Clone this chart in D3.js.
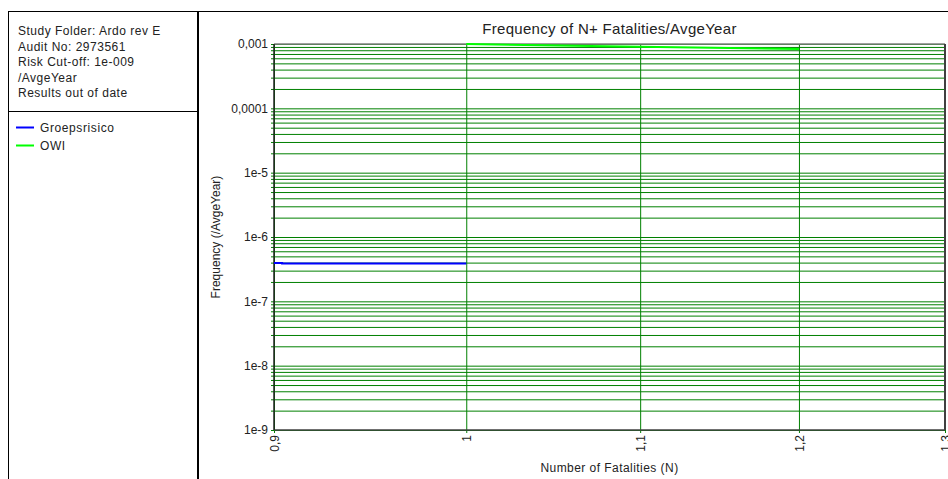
<!DOCTYPE html>
<html>
<head>
<meta charset="utf-8">
<script src="https://cdn.jsdelivr.net/npm/d3@7"></script>
<style>
  body { margin: 0; background: #fff; }
  text { font-family: "Liberation Sans", Arial, sans-serif; fill: #222; }
</style>
</head>
<body>
<div id="chart"></div>
<script>
// data
var infoLines = ['Study Folder: Ardo rev E', 'Audit No: 2973561', 'Risk Cut-off: 1e-009', '/AvgeYear', 'Results out of date']
var seriesNames = ['Groepsrisico', 'OWI']
var seriesColors = ['#0000ff', '#00ff00']
var groepsN = [0.9, 0.904, 0.904, 1]
var groepsFreq = [3.95e-7, 3.95e-7, 3.86e-7, 3.86e-7]
var owiN = [1, 1.1, 1.2]
var owiFreq = [1.0e-3, 9.1e-4, 8.35e-4]
var xTickValues = [0.9, 1, 1.1, 1.2, 1.3]
var xTickLabels = ['0,9', '1', '1,1', '1,2', '1,3']
var yTickValues = [1e-9, 1e-8, 1e-7, 1e-6, 1e-5, 1e-4, 1e-3]
var yTickLabels = ['1e-9', '1e-8', '1e-7', '1e-6', '1e-5', '0,0001', '0,001']

var W = 948, H = 479
var margin = { top: 44, left: 274, right: 3, bottom: 49 }
var width = W - margin.left - margin.right
var height = H - margin.top - margin.bottom

var root = d3.select('#chart').append('svg')
  .attr('width', W)
  .attr('height', H)

/* left info panel */
root.append('line').attr('x1', 8).attr('x2', W).attr('y1', 11.5).attr('y2', 11.5)
  .attr('stroke', '#000').attr('stroke-width', 1)
root.append('line').attr('x1', 8.5).attr('x2', 8.5).attr('y1', 11).attr('y2', H)
  .attr('stroke', '#000').attr('stroke-width', 1)
root.append('line').attr('x1', 198).attr('x2', 198).attr('y1', 11).attr('y2', H)
  .attr('stroke', '#000').attr('stroke-width', 2)
root.append('line').attr('x1', 8).attr('x2', 198).attr('y1', 111.5).attr('y2', 111.5)
  .attr('stroke', '#000').attr('stroke-width', 1)

root.selectAll('.info')
  .data(infoLines)
  .enter()
  .append('text')
  .attr('class', 'info')
  .attr('x', 18)
  .attr('y', (d, i) => 35 + i * 15.5)
  .style('font-size', '12px')
  .style('letter-spacing', '0.5px')
  .text(d => d)

var legend = root.selectAll('.legend')
  .data(seriesNames)
  .enter()
  .append('g')
  .attr('class', 'legend')
  .attr('transform', (d, i) => `translate(16,${127.5 + i * 18})`)
legend.append('line')
  .attr('x1', 0).attr('x2', 18)
  .attr('stroke', (d, i) => seriesColors[i])
  .attr('stroke-width', 2)
legend.append('text')
  .attr('x', 24).attr('dy', '0.35em')
  .style('font-size', '12px')
  .style('letter-spacing', '0.6px')
  .text(d => d)

/* plot */
var svg = root.append('g')
  .attr('transform', `translate(${margin.left},${margin.top})`)

var xPositionScale = d3.scaleLog().domain([0.9, 1.3]).range([0, width])
var yPositionScale = d3.scaleLog().domain([1e-9, 1e-3]).range([height, 0])

// every 1..9 x 10^k between the decades
var yMinor = []
yTickValues.forEach(function(v, i) {
  if (i === yTickValues.length - 1) { yMinor.push(v); return }
  for (var k = 1; k < 10; k++) yMinor.push(v * k)
})

var yAxis = d3.axisLeft(yPositionScale)
  .tickValues(yMinor)
  .tickSize(-width)
  .tickSizeOuter(0)
  .tickPadding(6)
  .tickFormat(d => {
    var i = yTickValues.findIndex(v => Math.abs(v - d) / v < 1e-6)
    return i >= 0 ? yTickLabels[i] : ''
  })
var gy = svg.append('g').attr('class', 'axis y-axis').call(yAxis)
gy.select('.domain').remove()
gy.selectAll('.tick line').attr('x1', -3).attr('stroke', '#008000')
gy.selectAll('.tick text')
  .style('font-size', '12px')
  .attr('x', -6)
  .attr('fill', '#222')

var xAxis = d3.axisBottom(xPositionScale)
  .tickValues(xTickValues)
  .tickSize(-height)
  .tickSizeOuter(0)
  .tickFormat((d, i) => xTickLabels[i])
var gx = svg.append('g')
  .attr('class', 'axis x-axis')
  .attr('transform', 'translate(0,' + height + ')')
  .call(xAxis)
gx.select('.domain').remove()
gx.selectAll('.tick line').attr('y1', 3).attr('stroke', '#008000')
gx.selectAll('.tick text')
  .style('font-size', '12px')
  .style('text-anchor', 'end')
  .attr('transform', 'rotate(-90)')
  .attr('x', -5)
  .attr('y', 0)
  .attr('dy', '0.35em')
  .attr('fill', '#222')

// frame
svg.append('line').attr('x1', 0).attr('x2', width).attr('y1', 0).attr('y2', 0)
  .attr('stroke', '#808080').attr('stroke-width', 1.5)
svg.append('line').attr('x1', 0).attr('x2', width).attr('y1', height).attr('y2', height)
  .attr('stroke', '#404040').attr('stroke-width', 1.5)
svg.append('line').attr('x1', 0).attr('x2', 0).attr('y1', 0).attr('y2', height)
  .attr('stroke', '#202020').attr('stroke-width', 1.5)
svg.append('line').attr('x1', width).attr('x2', width).attr('y1', 0).attr('y2', height)
  .attr('stroke', '#404040').attr('stroke-width', 2)

/* series */
var line = d3.line()
  .x(d => xPositionScale(d[0]))
  .y(d => yPositionScale(d[1]))

var series = [
  d3.zip(groepsN, groepsFreq),
  d3.zip(owiN, owiFreq)
]
svg.selectAll('.series')
  .data(series)
  .enter()
  .append('path')
  .attr('class', 'series')
  .attr('d', line)
  .attr('fill', 'none')
  .attr('stroke', (d, i) => seriesColors[i])
  .attr('stroke-width', 2)

/* titles */
svg.append('text')
  .attr('x', width / 2)
  .attr('y', -10.5)
  .attr('text-anchor', 'middle')
  .style('font-size', '15px')
  .style('letter-spacing', '0.3px')
  .text('Frequency of N+ Fatalities/AvgeYear')

svg.append('text')
  .attr('x', width / 2)
  .attr('y', height + 42)
  .attr('text-anchor', 'middle')
  .style('font-size', '12px')
  .style('letter-spacing', '0.45px')
  .text('Number of Fatalities (N)')

svg.append('text')
  .attr('transform', `translate(-54,${height / 2}) rotate(-90)`)
  .attr('text-anchor', 'middle')
  .style('font-size', '12px')
  .text('Frequency (/AvgeYear)')
</script>
</body>
</html>
